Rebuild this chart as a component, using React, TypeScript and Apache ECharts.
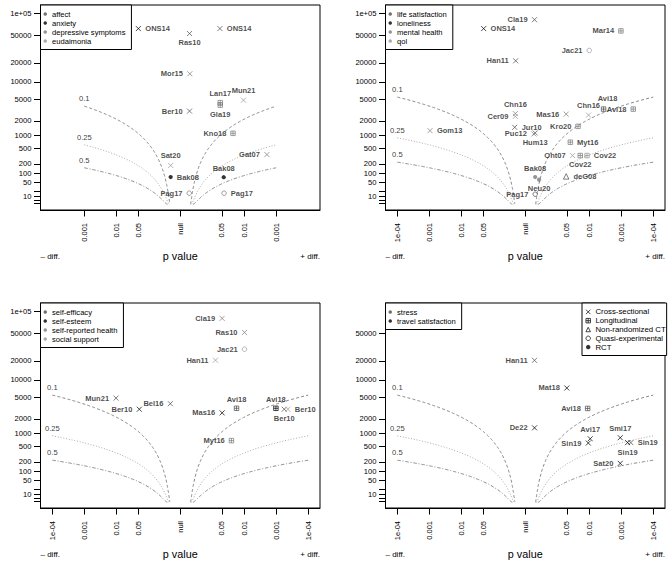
import React, { useEffect, useRef } from 'react';
import * as echarts from 'echarts';

const FONT = '"Liberation Sans", Arial, Helvetica, sans-serif';

// ---------- categories ----------
const outcomes1 = ['affect', 'anxiety', 'depressive symptoms', 'eudaimonia'];
const outcomes2 = ['life satisfaction', 'loneliness', 'mental health', 'qol'];
const outcomes3 = ['self-efficacy', 'self-esteem', 'self-reported health', 'social support'];
const outcomes4 = ['stress', 'travel satisfaction'];
const designCodes = ['CS', 'L', 'NRCT', 'QE', 'RCT'];
const designNames = ['Cross-sectional', 'Longitudinal', 'Non-randomized CT', 'Quasi-experimental', 'RCT'];

// ---------- panel 1 ----------
const p1Study = ['ONS14', 'Ras10', 'ONS14', 'Mor15', 'Lan17', 'Gla19', 'Mun21', 'Ber10', 'Kno18', 'Gat07', 'Sat20', 'Bak08', 'Bak08', 'Pag17', 'Pag17'];
const p1Dir = [-1, 1, 1, 1, 1, 1, 1, 1, 1, 1, -1, -1, 1, 1, 1];
const p1P = [0.049, 0.513, 0.0575, 0.501, 0.0562, 0.0562, 0.0105, 0.513, 0.0224, 0.00195, 0.501, 0.501, 0.0437, 0.525, 0.0427];
const p1N = [62000, 53000, 62000, 13500, 4410, 3980, 4880, 3090, 1110, 354, 179, 77, 76, 16, 16];
const p1Design = ['CS', 'CS', 'CS', 'CS', 'L', 'L', 'CS', 'CS', 'L', 'CS', 'CS', 'RCT', 'RCT', 'QE', 'QE'];
const p1Outcome = ['anxiety', 'affect', 'affect', 'depressive symptoms', 'depressive symptoms', 'depressive symptoms', 'eudaimonia', 'affect', 'depressive symptoms', 'depressive symptoms', 'eudaimonia', 'anxiety', 'anxiety', 'depressive symptoms', 'depressive symptoms'];

// ---------- panel 2 ----------
const p2Study = ['Cla19', 'ONS14', 'Mar14', 'Jac21', 'Han11', 'Chn16', 'Cer09', 'Gom13', 'Jur10', 'Puc12', 'Hum13', 'Mas16', 'Chn16', 'Avi18', 'Avi18', 'Kro20', 'Myt16', 'Oht07', 'Cov22', 'Cov22', 'deG08', 'Bak08', 'Neu20', 'Pag17'];
const p2Dir = [1, -1, 1, 1, -1, -1, -1, -1, -1, 1, 1, 1, 1, 1, 1, 1, 1, 1, 1, 1, 1, 1, 1, 1];
const p2P = [0.513, 0.0501, 0.00102, 0.01, 0.501, 0.49, 0.49, 0.00105, 0.468, 0.537, 0.49, 0.0525, 0.0105, 0.00355, 0.00042, 0.0224, 0.0389, 0.0331, 0.0191, 0.0117, 0.0525, 0.49, 0.37, 0.49];
const p2N = [81700, 62000, 57600, 30500, 21400, 2770, 2450, 1265, 1485, 1075, 1130, 2710, 2600, 3365, 3365, 1555, 705, 334, 334, 334, 81, 77, 62, 14];
const p2Design = ['CS', 'CS', 'L', 'QE', 'CS', 'CS', 'CS', 'CS', 'CS', 'CS', 'CS', 'CS', 'CS', 'L', 'L', 'L', 'L', 'CS', 'L', 'L', 'NRCT', 'RCT', 'RCT', 'QE'];
const p2Outcome = ['life satisfaction', 'loneliness', 'mental health', 'qol', 'life satisfaction', 'mental health', 'qol', 'mental health', 'life satisfaction', 'mental health', 'life satisfaction', 'mental health', 'qol', 'life satisfaction', 'mental health', 'mental health', 'mental health', 'qol', 'mental health', 'qol', 'life satisfaction', 'mental health', 'mental health', 'life satisfaction'];

// ---------- panel 3 ----------
const p3Study = ['Cla19', 'Ras10', 'Jac21', 'Han11', 'Mun21', 'Ber10', 'Bel16', 'Avi18', 'Mas16', 'Avi18', 'Ber10', 'Ber10', 'Myt16'];
const p3Dir = [1, 1, 1, 1, -1, -1, -1, 1, 1, 1, 1, 1, 1];
const p3P = [0.049, 0.0098, 0.0098, 0.079, 0.0098, 0.0525, 0.49, 0.0174, 0.049, 0.00102, 0.00056, 0.00043, 0.0251];
const p3N = [80000, 51500, 29700, 20400, 4900, 3070, 3890, 3200, 2620, 3200, 3070, 3070, 690];
const p3Design = ['CS', 'CS', 'QE', 'CS', 'CS', 'CS', 'CS', 'L', 'CS', 'L', 'CS', 'CS', 'L'];
const p3Outcome = ['self-reported health', 'self-reported health', 'social support', 'social support', 'self-efficacy', 'self-esteem', 'self-efficacy', 'self-efficacy', 'self-esteem', 'self-esteem', 'self-efficacy', 'social support', 'self-reported health'];

// ---------- panel 4 ----------
const p4Study = ['Han11', 'Mat18', 'Avi18', 'De22', 'Avi17', 'Sin19', 'Smi17', 'Sin19', 'Sin19', 'Sat20'];
const p4Dir = [1, 1, 1, 1, 1, 1, 1, 1, 1, 1];
const p4P = [0.513, 0.0501, 0.0112, 0.513, 0.0093, 0.0107, 0.00107, 0.00063, 0.0005, 0.00107];
const p4N = [20300, 7330, 3180, 1316, 760, 606, 804, 620, 620, 180];
const p4Design = ['CS', 'CS', 'L', 'CS', 'CS', 'CS', 'CS', 'CS', 'CS', 'CS'];
const p4Outcome = ['stress', 'travel satisfaction', 'stress', 'travel satisfaction', 'travel satisfaction', 'travel satisfaction', 'travel satisfaction', 'travel satisfaction', 'stress', 'travel satisfaction'];

// ---------- ticks ----------
const xTickP = [0.0001, 0.001, 0.01, 0.05];
const xTickText = ['1e-04', '0.001', '0.01', '0.05'];
const xTickPPanel1 = [0.001, 0.01, 0.05];
const yTickN = [1, 2, 5, 10, 20, 50, 100, 200, 500, 1000, 2000, 5000, 10000, 20000, 50000, 100000];
const yLabelN = [1, 10, 50, 100, 200, 500, 1000, 2000, 5000, 10000, 20000, 50000, 100000];
const yTickNPanel4 = [1, 2, 5, 10, 20, 50, 100, 200, 500, 1000, 2000, 5000, 10000, 20000, 50000];
const yLabelNPanel4 = [1, 10, 50, 100, 200, 500, 1000, 2000, 5000, 10000, 20000, 50000];

// ---------- effect-size contours ----------
const contourD = [0.1, 0.25, 0.5];
const contourText = ['0.1', '0.25', '0.5'];

// ---------- styles (kept apart from data) ----------
const p1LabelPos = ['right', 'bottom', 'right', 'left', 'top', 'bottom', 'top', 'left', 'left', 'left', 'top', 'right', 'top', 'left', 'right'];
const p2LabelPos = ['left', 'right', 'left', 'left', 'left', 'top', 'left', 'right', 'right', 'left', 'bottom', 'left', 'top', 'top', 'left', 'left', 'right', 'left', 'bottom', 'right', 'right', 'top', 'bottom', 'left'];
const p3LabelPos = ['left', 'left', 'left', 'left', 'left', 'left', 'left', 'top', 'left', 'top', 'bottom', 'right', 'left'];
const p4LabelPos = ['left', 'left', 'left', 'left', 'top', 'left', 'top', 'bottom', 'right', 'left'];
const p2LabelShift: Record<number, number[]> = { 13: [4, -1] };
const OUTCOME_COLORS = ['#4d4d4d', '#000000', '#7a7a7a', '#969696'];
const CONTOUR_STYLE = [
  { color: '#858585', type: [3, 2.2] },
  { color: '#a8a8a8', type: [1, 1.8] },
  { color: '#8a8a8a', type: [3.5, 1.8, 1, 1.8] },
];
const SYM_CROSS = 'path://M0,0L10,10M10,0L0,10';
const SYM_SQPLUS = 'path://M0,0L10,0L10,10L0,10ZM5,0L5,10M0,5L10,5';
const DESIGN_SYMBOL: Record<string, { symbol: string; size: number; filled: boolean }> = {
  CS: { symbol: SYM_CROSS, size: 5, filled: false },
  L: { symbol: SYM_SQPLUS, size: 4.5, filled: false },
  NRCT: { symbol: 'triangle', size: 5.5, filled: false },
  QE: { symbol: 'circle', size: 4.5, filled: false },
  RCT: { symbol: 'circle', size: 4.2, filled: true },
};
const GRID_POS = [
  { left: 40.5, top: 5 },
  { left: 385.5, top: 5 },
  { left: 40.5, top: 303 },
  { left: 385.5, top: 303 },
];
const GRID_W = 279.5;
const GRID_H = 205;
const X_MIN = -4.37;
const X_MAX = 4.37;
const Y_MIN = -0.75;
const Y_MAX = 26.05;

// ---------- math helpers ----------
function qnorm(p: number): number {
  const a = [-3.969683028665376e1, 2.209460984245205e2, -2.759285104469687e2, 1.38357751867269e2, -3.066479806614716e1, 2.506628277459239];
  const b = [-5.447609879822406e1, 1.615858368580409e2, -1.556989798598866e2, 6.680131188771972e1, -1.328068155288572e1];
  const c = [-7.784894002430293e-3, -3.223964580411365e-1, -2.400758277161838, -2.549732539343734, 4.374664141464968, 2.938163982698783];
  const d = [7.784695709041462e-3, 3.224671290700398e-1, 2.445134137142996, 3.754408661907416];
  const pl = 0.02425;
  if (p < pl) {
    const q = Math.sqrt(-2 * Math.log(p));
    return (((((c[0] * q + c[1]) * q + c[2]) * q + c[3]) * q + c[4]) * q + c[5]) / ((((d[0] * q + d[1]) * q + d[2]) * q + d[3]) * q + 1);
  }
  if (p <= 1 - pl) {
    const q = p - 0.5;
    const r = q * q;
    return ((((((a[0] * r + a[1]) * r + a[2]) * r + a[3]) * r + a[4]) * r + a[5]) * q) / (((((b[0] * r + b[1]) * r + b[2]) * r + b[3]) * r + b[4]) * r + 1);
  }
  const q = Math.sqrt(-2 * Math.log(1 - p));
  return -(((((c[0] * q + c[1]) * q + c[2]) * q + c[3]) * q + c[4]) * q + c[5]) / ((((d[0] * q + d[1]) * q + d[2]) * q + d[3]) * q + 1);
}
const nToY = (n: number) => Math.pow(Math.log10(Math.max(n, 1)), 2);
const pToX = (p: number, dir: number) => dir * -Math.log10(p);
function contourN(x: number, d: number) {
  const z = qnorm(1 - Math.pow(10, -x));
  return Math.pow((2 * z) / d, 2);
}
function contourPoints(d: number, xEnd: number): number[][] {
  let lo = 0.302;
  let hi = 1.5;
  for (let i = 0; i < 60; i++) {
    const mid = (lo + hi) / 2;
    if (contourN(mid, d) < 1) lo = mid;
    else hi = mid;
  }
  const x0 = hi;
  const K = 180;
  const pts: number[][] = [];
  for (let k = 0; k <= K; k++) {
    const x = x0 + (xEnd - x0) * Math.pow(k / K, 2);
    pts.push([x, nToY(contourN(x, d))]);
  }
  return pts;
}

const panels = [
  { study: p1Study, dir: p1Dir, p: p1P, n: p1N, design: p1Design, outcome: p1Outcome, pos: p1LabelPos, shift: {} as Record<number, number[]>, outcomes: outcomes1, xp: xTickPPanel1, yt: yTickN, yl: yLabelN },
  { study: p2Study, dir: p2Dir, p: p2P, n: p2N, design: p2Design, outcome: p2Outcome, pos: p2LabelPos, shift: p2LabelShift, outcomes: outcomes2, xp: xTickP, yt: yTickN, yl: yLabelN },
  { study: p3Study, dir: p3Dir, p: p3P, n: p3N, design: p3Design, outcome: p3Outcome, pos: p3LabelPos, shift: {} as Record<number, number[]>, outcomes: outcomes3, xp: xTickP, yt: yTickN, yl: yLabelN },
  { study: p4Study, dir: p4Dir, p: p4P, n: p4N, design: p4Design, outcome: p4Outcome, pos: p4LabelPos, shift: {} as Record<number, number[]>, outcomes: outcomes4, xp: xTickP, yt: yTickNPanel4, yl: yLabelNPanel4 },
];

function xFormatter(v: number) {
  if (Math.abs(v) < 1e-9) return 'null';
  const p = Math.pow(10, -Math.abs(v));
  let best = 0;
  for (let i = 0; i < xTickP.length; i++) {
    if (Math.abs(Math.log10(xTickP[i]) - Math.log10(p)) < Math.abs(Math.log10(xTickP[best]) - Math.log10(p))) best = i;
  }
  return xTickText[best];
}
function yFormatter(v: number) {
  const n = Math.round(Math.pow(10, Math.sqrt(Math.max(v, 0))));
  return n === 100000 ? '1e+05' : String(n);
}

function buildOption() {
  const grid: any[] = [];
  const xAxis: any[] = [];
  const yAxis: any[] = [];
  const series: any[] = [];
  const legend: any[] = [];
  const graphic: any[] = [];

  panels.forEach((pl, i) => {
    const g = GRID_POS[i];
    grid.push({
      left: g.left, top: g.top, width: GRID_W, height: GRID_H,
      show: true, borderColor: '#000', borderWidth: 1, backgroundColor: 'rgba(0,0,0,0)',
      containLabel: false, outerBoundsMode: 'none',
    });
    const xVals = [
      ...pl.xp.map((p) => pToX(p, -1)),
      0,
      ...pl.xp.slice().reverse().map((p) => pToX(p, 1)),
    ];
    xAxis.push({
      type: 'value', gridIndex: i, min: X_MIN, max: X_MAX,
      splitLine: { show: false },
      axisLine: { show: true, onZero: false, lineStyle: { color: '#000', width: 1 } },
      axisTick: { show: true, inside: false, length: 6.5, lineStyle: { color: '#000', width: 1 }, customValues: xVals },
      axisLabel: {
        show: true, customValues: xVals, rotate: 90, margin: 13, fontSize: 7.5, color: '#000', fontFamily: FONT,
        formatter: xFormatter,
      },
    });
    const yTicks = pl.yt.map(nToY);
    const yLabels = pl.yl.map(nToY);
    yAxis.push({
      type: 'value', gridIndex: i, min: Y_MIN, max: Y_MAX,
      splitLine: { show: false },
      axisLine: { show: true, onZero: false, lineStyle: { color: '#000', width: 1 } },
      axisTick: { show: true, inside: false, length: 6.5, lineStyle: { color: '#000', width: 1 }, customValues: yTicks },
      axisLabel: {
        show: true, customValues: yLabels, margin: 9, fontSize: 7.6, color: '#000', fontFamily: FONT,
        formatter: yFormatter,
      },
    });

    // contours
    const xEnd = -Math.log10(Math.min(...pl.xp));
    const contourLabelData: any[] = [];
    contourD.forEach((d, k) => {
      const pts = contourPoints(d, xEnd);
      const st = CONTOUR_STYLE[k];
      const common = {
        type: 'line', xAxisIndex: i, yAxisIndex: i, showSymbol: false, symbol: 'none', silent: true,
        lineStyle: { color: st.color, width: 1, type: st.type }, z: 1, animation: false,
      };
      series.push({ ...common, name: 'contour ' + contourText[k] + ' R' + i, data: pts });
      series.push({ ...common, name: 'contour ' + contourText[k] + ' L' + i, data: pts.map(([x, y]) => [-x, y]).reverse() });
      const last = pts[pts.length - 1];
      contourLabelData.push({
        value: [-last[0], last[1]],
        label: { show: true, formatter: contourText[k], position: 'top', distance: 3.5, fontSize: 7.6, color: '#000000', fontFamily: FONT },
      });
    });
    series.push({
      type: 'scatter', name: 'contour labels ' + i, xAxisIndex: i, yAxisIndex: i, silent: true,
      symbolSize: 0.1, itemStyle: { color: 'rgba(0,0,0,0)' }, data: contourLabelData, z: 2,
    });

    // studies, one series per outcome
    pl.outcomes.forEach((oc, k) => {
      const col = OUTCOME_COLORS[k];
      const data: any[] = [];
      pl.study.forEach((name, j) => {
        if (pl.outcome[j] !== oc) return;
        const ds = DESIGN_SYMBOL[pl.design[j]];
        const pos = pl.pos[j];
        const label: any = {
          show: true, formatter: name, position: pos,
          distance: pos === 'left' || pos === 'right' ? 4 : 2.5,
          fontSize: 7.5, fontWeight: 'bold', color: '#1a1a1a', fontFamily: FONT,
        };
        if (pl.shift[j]) label.offset = pl.shift[j];
        data.push({
          value: [pToX(pl.p[j], pl.dir[j]), nToY(pl.n[j])],
          symbol: ds.symbol,
          symbolSize: ds.size,
          itemStyle: ds.filled
            ? { color: col, borderColor: col, borderWidth: 0 }
            : { color: 'rgba(0,0,0,0)', borderColor: col, borderWidth: 0.9 },
          label,
        });
      });
      series.push({
        type: 'scatter', name: oc, xAxisIndex: i, yAxisIndex: i, data, z: 5,
        itemStyle: { color: col }, emphasis: { disabled: true },
      });
    });

    legend.push({
      orient: 'vertical', left: g.left, top: g.top,
      data: pl.outcomes.map((o, k) => ({ name: o, icon: 'circle', itemStyle: { color: OUTCOME_COLORS[k], borderWidth: 0 }, textStyle: { color: '#000000' } })),
      itemWidth: 3.5, itemHeight: 3.5, itemGap: 0,
      padding: [4.5, 6, 4, 3],
      borderColor: '#000', borderWidth: 1, backgroundColor: '#fff', borderRadius: 0,
      textStyle: { fontSize: 7.6, color: '#000000', fontFamily: FONT, lineHeight: 9 },
      selectedMode: false, z: 10,
    });

    const bottom = g.top + GRID_H;
    const txt = (text: string, x: number, align: string, size: number) => ({
      type: 'text', x, y: bottom + 46, z: 10,
      style: { text, fontSize: size, fontFamily: FONT, fill: '#000', textAlign: align, textVerticalAlign: 'middle', align, verticalAlign: 'middle' },
    });
    graphic.push(txt('– diff.', g.left, 'left', 8));
    graphic.push(txt('p value', g.left + GRID_W / 2, 'center', 10.8));
    graphic.push(txt('+ diff.', g.left + GRID_W, 'right', 8));
  });

  // design legend (dummy series carry the symbols)
  designCodes.forEach((code, k) => {
    const ds = DESIGN_SYMBOL[code];
    series.push({
      type: 'scatter', name: designNames[k], xAxisIndex: 3, yAxisIndex: 3, data: [],
      symbol: ds.symbol, symbolSize: ds.size,
      itemStyle: ds.filled ? { color: '#000' } : { color: 'rgba(0,0,0,0)', borderColor: '#000', borderWidth: 0.9 },
    });
  });
  legend.push({
    orient: 'vertical', left: 582, top: 303,
    data: designCodes.map((code, k) => {
      const ds = DESIGN_SYMBOL[code];
      return {
        name: designNames[k], icon: ds.symbol, textStyle: { color: '#000000' },
        itemStyle: ds.filled ? { color: '#000', borderWidth: 0 } : { color: 'rgba(0,0,0,0)', borderColor: '#000', borderWidth: 0.9 },
      };
    }),
    itemWidth: 4.5, itemHeight: 4.5, itemGap: 0,
    padding: [4.5, 1, 4, 3.5],
    borderColor: '#000', borderWidth: 1, backgroundColor: '#fff', borderRadius: 0,
    textStyle: { fontSize: 7.8, color: '#000000', fontFamily: FONT, lineHeight: 8.8 },
    selectedMode: false, z: 10,
  });

  return {
    animation: false,
    backgroundColor: '#fff',
    textStyle: { fontFamily: FONT },
    tooltip: { show: false },
    grid, xAxis, yAxis, series, legend, graphic,
  };
}

export default function App() {
  const ref = useRef<HTMLDivElement>(null);
  useEffect(() => {
    if (!ref.current) return;
    const chart = echarts.init(ref.current, null, { renderer: 'svg' });
    chart.setOption(buildOption() as any);
    return () => chart.dispose();
  }, []);
  return <div ref={ref} style={{ position: 'absolute', left: 0, top: 0, width: 671, height: 563, background: '#fff' }} />;
}
